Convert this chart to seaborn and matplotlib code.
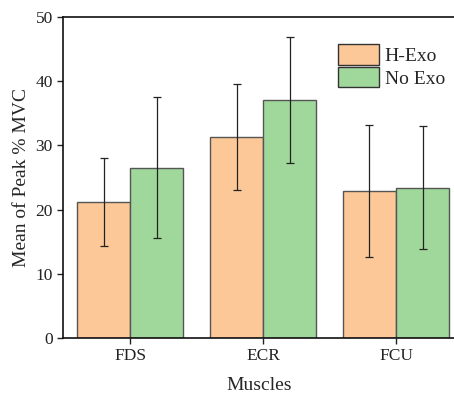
import pandas as pd
import numpy as np
import matplotlib
matplotlib.use('Agg')
import matplotlib.pyplot as plt
import seaborn as sns

# Данные
muscles = ['FDS', 'ECR', 'FCU']
conditions = ['H-Exo', 'No Exo']
h_exo_mean = [21.2, 31.3, 22.9]
h_exo_err = [6.8, 8.3, 10.3]
no_exo_mean = [26.5, 37.1, 23.4]
no_exo_err = [11.0, 9.8, 9.6]

df = pd.DataFrame({
    'Muscles': muscles * 2,
    'Condition': [conditions[0]] * 3 + [conditions[1]] * 3,
    'Mean': h_exo_mean + no_exo_mean,
    'Err': h_exo_err + no_exo_err,
})

sns.set_style('ticks')
plt.rcParams['font.family'] = ['Liberation Serif', 'DejaVu Serif']

fig = plt.figure(figsize=(4.54, 3.98), dpi=100)
ax = fig.add_axes([0.139, 0.151, 0.865, 0.806])

palette = {'H-Exo': '#FDC897', 'No Exo': '#A0D89B'}
sns.barplot(data=df, x='Muscles', y='Mean', hue='Condition', order=muscles,
            hue_order=conditions, palette=palette, errorbar=None,
            edgecolor='#555555', linewidth=1.0, saturation=1, ax=ax)

# Планки погрешностей по центрам столбцов
for cont, cond in zip(ax.containers, conditions):
    sub = df[df['Condition'] == cond].set_index('Muscles').loc[muscles]
    xs = [p.get_x() + p.get_width() / 2 for p in cont.patches]
    ax.errorbar(xs, sub['Mean'], yerr=sub['Err'], fmt='none', ecolor='#222222',
                elinewidth=0.9, capsize=3, capthick=0.9)

ax.set_ylim(0, 50)
ax.set_xlim(-0.506, 2.45)
ax.set_yticks([0, 10, 20, 30, 40, 50])
ax.set_xlabel('Muscles', fontsize=14, labelpad=9)
ax.set_ylabel('Mean of Peak % MVC', fontsize=14, labelpad=4)
ax.tick_params(axis='both', labelsize=12.5, direction='out', length=4, width=1, colors='#222222')
for s in ax.spines.values():
    s.set_linewidth(1.2)
    s.set_color('#111111')

leg = ax.legend(loc='upper left', bbox_to_anchor=(0.68, 0.94), frameon=False,
                fontsize=14, handlelength=2.1, handleheight=1.25, handletextpad=0.3,
                labelspacing=0.1, borderaxespad=0)
for h in leg.legend_handles:
    h.set_edgecolor('#333333')

fig.savefig('out.png', dpi=100)
